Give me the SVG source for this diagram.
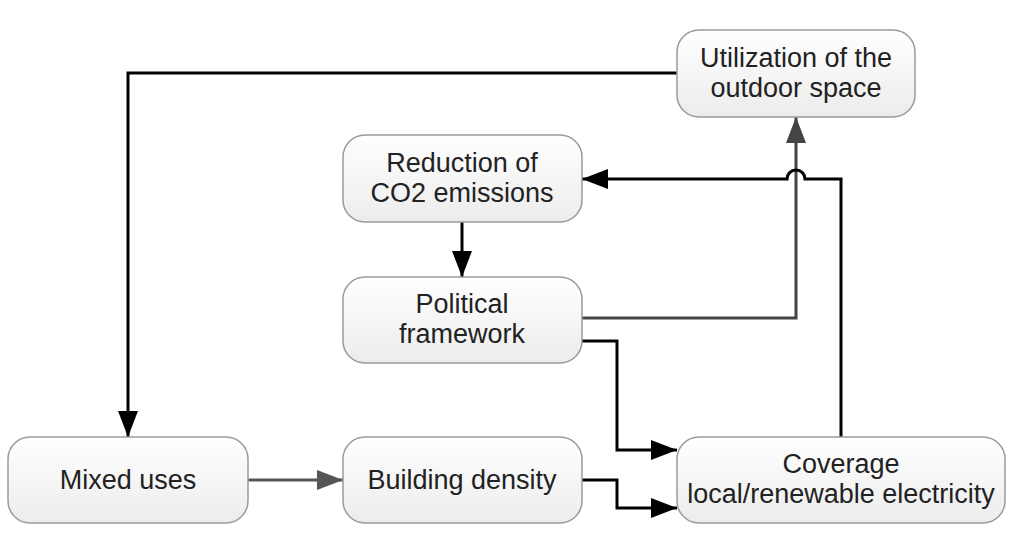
<svg xmlns="http://www.w3.org/2000/svg" width="1024" height="553" viewBox="0 0 1024 553">
<defs>
<linearGradient id="g" x1="0" y1="0" x2="0" y2="1">
<stop offset="0" stop-color="#ffffff"/>
<stop offset="1" stop-color="#ececec"/>
</linearGradient>
<marker id="ak" viewBox="0 0 26 20" refX="26" refY="10" markerWidth="26" markerHeight="20" markerUnits="userSpaceOnUse" orient="auto">
<path d="M0,0 L26,10 L0,20 Z" fill="#000"/>
</marker>
<marker id="ag" viewBox="0 0 26 20" refX="26" refY="10" markerWidth="26" markerHeight="20" markerUnits="userSpaceOnUse" orient="auto">
<path d="M0,0 L26,10 L0,20 Z" fill="#444"/>
</marker>
<marker id="ag2" viewBox="0 0 26 20" refX="26" refY="10" markerWidth="26" markerHeight="20" markerUnits="userSpaceOnUse" orient="auto">
<path d="M0,0 L26,10 L0,20 Z" fill="#555"/>
</marker>
</defs>
<style>
.n rect{fill:url(#g);stroke:#9a9a9a;stroke-width:1.5}
.n text{font-family:"Liberation Sans",Arial,sans-serif;font-size:27px;fill:#222;text-anchor:middle}
.c path{fill:none;stroke-width:3}
.k{stroke:#000}
.gr{stroke:#444}
.gr2{stroke:#555}
</style>
<rect width="1024" height="553" fill="#fff"/>
<g id="connectors" class="c">
<path class="k" d="M677,73 L128,73 L128,437" marker-end="url(#ak)"/>
<path class="gr2" d="M248,480 L343,480" marker-end="url(#ag2)"/>
<path class="k" d="M582,480 L617,480 L617,508 L677,508" marker-end="url(#ak)"/>
<path class="k" d="M582,341 L617,341 L617,450 L677,450" marker-end="url(#ak)"/>
<path class="gr" d="M582,318 L796,318 L796,117" marker-end="url(#ag)"/>
<path class="k" d="M841,437 L841,179 L805,179 A9,9 0 0 0 787,179 L582,179" marker-end="url(#ak)"/>
<path class="k" d="M462,222 L462,277" marker-end="url(#ak)"/>
</g>
<g id="utilization" class="n">
<rect x="677" y="30" width="238" height="87" rx="22"/>
<text x="796" y="67">Utilization of the</text>
<text x="796" y="97">outdoor space</text>
</g>
<g id="reduction" class="n">
<rect x="343" y="135" width="239" height="87" rx="22"/>
<text x="462" y="172">Reduction of</text>
<text x="462" y="202">CO2 emissions</text>
</g>
<g id="political" class="n">
<rect x="343" y="277" width="239" height="86" rx="22"/>
<text x="462" y="313">Political</text>
<text x="462" y="343">framework</text>
</g>
<g id="mixed" class="n">
<rect x="8" y="437" width="240" height="86" rx="22"/>
<text x="128" y="489">Mixed uses</text>
</g>
<g id="building" class="n">
<rect x="343" y="437" width="239" height="86" rx="22"/>
<text x="462" y="489">Building density</text>
</g>
<g id="coverage" class="n">
<rect x="677" y="437" width="328" height="86" rx="22"/>
<text x="841" y="473">Coverage</text>
<text x="841" y="503">local/renewable electricity</text>
</g>
</svg>
